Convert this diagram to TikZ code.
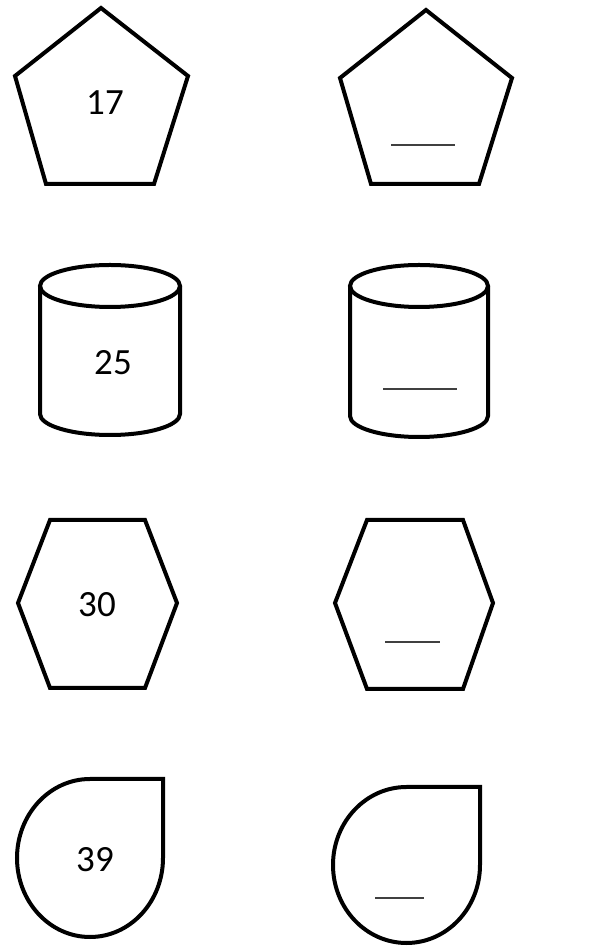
\documentclass[tikz,border=0pt]{standalone}
\usepackage{fontspec}
\setmainfont{Carlito}

\begin{document}
\begin{tikzpicture}[x=1pt, y=1pt,
  outline/.style={draw=black, line width=4pt, line join=miter},
  num/.style={font=\fontsize{37}{40}\selectfont, inner sep=0pt},
  blank/.style={draw=black!75, line width=1.3pt}]
  \useasboundingbox (0,0) rectangle (614,951);
  % pentagons
  \draw[outline] (101,943) -- (188,875) -- (154,767) -- (46,767) -- (15,875) -- cycle;
  \draw[outline] (426,941) -- (512,873) -- (479,767) -- (371,767) -- (340,873) -- cycle;
  \node[num] (p17) at (105,848) {17};
  \draw[blank] (391,806) -- (455,806);
  % cylinders
  \draw[outline] (110,665) ellipse[x radius=70, y radius=21];
  \draw[outline] (40,665) -- (40,537) arc[start angle=180, end angle=360, x radius=70, y radius=21] -- (180,665);
  \draw[outline] (419,665) ellipse[x radius=69, y radius=21];
  \draw[outline] (350,665) -- (350,535) arc[start angle=180, end angle=360, x radius=69, y radius=21] -- (488,665);
  \node[num] (c25) at (113,588) {25};
  \draw[blank] (383,562) -- (457,562);
  % hexagons
  \draw[outline] (18,348) -- (50,431) -- (145,431) -- (177,348) -- (145,263) -- (50,263) -- cycle;
  \draw[outline] (335,348) -- (367,431) -- (463,431) -- (493,348) -- (463,262) -- (367,262) -- cycle;
  \node[num] (h30) at (97,346) {30};
  \draw[blank] (385,309) -- (440,309);
  % drops
  \draw[outline] (163,172) -- (90,172) arc[start angle=90, end angle=360, x radius=73, y radius=79] -- cycle;
  \draw[outline] (480,164) -- (406.5,164) arc[start angle=90, end angle=360, x radius=73.5, y radius=78] -- cycle;
  \node[num] (d39) at (95,91) {39};
  \draw[blank] (375,53) -- (424,53);
\end{tikzpicture}
\end{document}
